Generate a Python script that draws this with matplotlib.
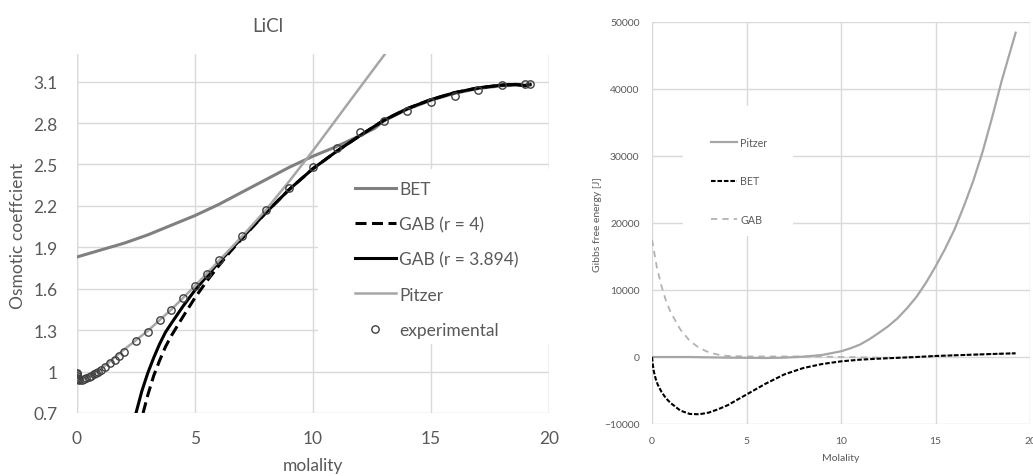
import matplotlib
matplotlib.use("Agg")
import matplotlib.pyplot as plt
from matplotlib.patches import Rectangle

# ---------------- Data: left panel (LiCl osmotic coefficient) ----------------
exp_m = [0.001, 0.005, 0.01, 0.02, 0.05, 0.1, 0.2, 0.3, 0.4, 0.5, 0.6, 0.7, 0.8, 0.9,
         1.0, 1.2, 1.4, 1.6, 1.8, 2.0, 2.5, 3.0, 3.5, 4.0, 4.5, 5.0, 5.5, 6.0,
         7, 8, 9, 10, 11, 12, 13, 14, 15, 16, 17, 18, 19, 19.2]
exp_phi = [0.99, 0.98, 0.965, 0.955, 0.945, 0.94, 0.94, 0.945, 0.953, 0.962, 0.97, 0.98, 0.99, 1.0,
           1.01, 1.035, 1.06, 1.085, 1.11, 1.14, 1.22, 1.29, 1.37, 1.445, 1.53, 1.62, 1.71, 1.805,
           1.98, 2.17, 2.33, 2.48, 2.62, 2.735, 2.815, 2.89, 2.95, 2.995, 3.04, 3.075, 3.085, 3.085]

bet_m = [0, 1, 2, 3, 4, 5, 6, 7, 8, 9, 10, 11, 12, 12.6, 13, 14, 15, 16, 17, 18, 19, 19.2]
bet_phi = [1.83, 1.88, 1.93, 1.99, 2.06, 2.13, 2.21, 2.30, 2.39, 2.48, 2.56, 2.63, 2.71, 2.76,
           2.815, 2.90, 2.965, 3.015, 3.05, 3.07, 3.075, 3.075]

gab4_m = [2.8, 3.0, 3.25, 3.5, 3.75, 4.0, 4.5, 5.0, 5.5, 6.0, 6.5, 7, 8, 9, 10, 11, 12, 13,
          14, 15, 16, 17, 18, 18.6, 19, 19.2]
gab4_phi = [0.70, 0.83, 0.97, 1.08, 1.18, 1.26, 1.40, 1.535, 1.655, 1.765, 1.87, 1.965, 2.15,
            2.32, 2.47, 2.595, 2.71, 2.82, 2.905, 2.97, 3.02, 3.055, 3.075, 3.08, 3.07, 3.08]

gab_m = [2.5, 2.75, 3.0, 3.25, 3.5, 3.75, 4.0, 4.5, 5.0, 5.5, 6.0, 7, 8, 9, 10, 11, 12, 13,
         14, 15, 16, 17, 18, 18.6, 19, 19.2]
gab_phi = [0.70, 0.86, 0.99, 1.10, 1.20, 1.285, 1.35, 1.475, 1.59, 1.69, 1.79, 1.97, 2.15,
           2.32, 2.47, 2.595, 2.71, 2.82, 2.905, 2.97, 3.02, 3.055, 3.075, 3.08, 3.07, 3.08]

pitz_m = [0.0, 0.1, 0.3, 0.5, 1, 1.5, 2, 3, 4, 5, 6, 7, 8, 9, 10, 11, 12, 13.05]
pitz_phi = [1.0, 0.945, 0.948, 0.962, 1.015, 1.09, 1.16, 1.295, 1.45, 1.62, 1.80, 1.98, 2.17,
            2.38, 2.60, 2.83, 3.06, 3.30]

# ---------------- Data: right panel (Gibbs free energy) ----------------
pitzG_m = [0, 1, 2, 3, 4, 5, 6, 7, 8, 9, 10, 10.5, 11, 11.5, 12, 12.5, 13, 13.5, 14, 14.5,
           15, 15.5, 16, 16.5, 17, 17.5, 18, 18.5, 19.24]
pitzG = [0, 0, 0, -50, -100, -120, -150, -100, 50, 300, 850, 1300, 1850, 2650, 3600, 4600,
         5800, 7300, 9000, 11100, 13500, 16100, 19000, 22500, 26300, 30700, 35800, 41200, 48400]

betG_m = [0, 0.05, 0.1, 0.2, 0.3, 0.5, 0.75, 1, 1.5, 2, 2.5, 3, 3.5, 4, 4.5, 5, 6, 7, 8, 9,
          10, 11, 12, 13, 14, 15, 16, 17, 18, 19.24]
betG = [0, -1300, -2200, -3300, -4100, -5200, -6200, -6900, -8000, -8500, -8550, -8300, -7800,
        -7200, -6400, -5600, -4000, -2600, -1650, -1050, -650, -400, -250, -120, 0, 150, 250,
        350, 450, 550]

gabG_m = [0, 0.25, 0.5, 0.75, 1, 1.5, 2, 2.5, 3, 3.5, 4, 5, 6, 7, 8, 9, 10, 11, 12, 13, 14,
          15, 16, 17, 18, 19.24]
gabG = [17500, 13500, 10600, 8300, 6600, 4100, 2400, 1350, 700, 350, 150, 80, 80, 80, 80, 60,
        0, -50, -100, -120, 0, 150, 250, 350, 450, 550]

left_yticks = [0.7, 1.0, 1.3, 1.6, 1.9, 2.2, 2.5, 2.8, 3.1]
left_yticklabels = ["0.7", "1", "1.3", "1.6", "1.9", "2.2", "2.5", "2.8", "3.1"]
x_ticks = [0, 5, 10, 15, 20]
right_yticks = [-10000, 0, 10000, 20000, 30000, 40000, 50000]

# ---------------- Figure ----------------
W, H = 1033, 477
fig = plt.figure(figsize=(W / 100, H / 100), dpi=100)
FONT = ["Lato", "DejaVu Sans"]
plt.rcParams["font.family"] = FONT
TXT = "#595959"
GRID = "#d9d9d9"


def ax_rect(l, t, r, b):
    return [l / W, 1 - b / H, (r - l) / W, (b - t) / H]


# ---------- Left panel ----------
ax1 = fig.add_axes(ax_rect(77, 55, 549, 414))
ax1.set_xlim(0, 20)
ax1.set_ylim(0.7, 3.3)
ax1.set_xticks(x_ticks)
ax1.set_yticks(left_yticks)
ax1.set_yticklabels(left_yticklabels)
ax1.set_axisbelow(True)
ax1.grid(True, color=GRID, lw=1.0, zorder=0.5)
for s in ax1.spines.values():
    s.set_visible(False)
ax1.tick_params(length=0, labelsize=12.5, labelcolor=TXT)
ax1.tick_params(axis="x", pad=12)
ax1.tick_params(axis="y", pad=14)
ax1.axvline(0, color=GRID, lw=1.0, zorder=0.55)
ax1.axvline(20, color=GRID, lw=1.0, zorder=0.55)

# legend mask box (white) over grid
ax1.add_patch(Rectangle((318, 477 - 345), 240, 175, transform=None, facecolor="white",
                        edgecolor="none", zorder=0.8))

l_bet, = ax1.plot(bet_m, bet_phi, color="#808080", lw=2.2, zorder=2)
l_gab4, = ax1.plot(gab4_m, gab4_phi, color="black", lw=2.2, ls=(0, (3.6, 1.8)), zorder=3)
l_gab, = ax1.plot(gab_m, gab_phi, color="black", lw=2.2, zorder=3)
l_pitz, = ax1.plot(pitz_m, pitz_phi, color="#a6a6a6", lw=1.8, zorder=4)
l_exp, = ax1.plot(exp_m, exp_phi, ls="none", marker="o", ms=5.3, mfc="none", mec="#404040",
                  mew=1.0, zorder=5)

leg1 = ax1.legend([l_bet, l_gab4, l_gab, l_pitz, l_exp],
                  ["BET", "GAB (r = 4)", "GAB (r = 3.894)", "Pitzer", "experimental"],
                  loc="upper left", bbox_to_anchor=(355 / W, 1 - 182 / H),
                  bbox_transform=fig.transFigure, frameon=False, borderpad=0,
                  borderaxespad=0, handlelength=2.35, handletextpad=0.2,
                  labelspacing=1.1, fontsize=12.5, numpoints=1, labelcolor=TXT)
leg1.set_zorder(6)

fig.text(268 / W, 1 - 26 / H, "LiCl", ha="center", va="center", fontsize=13.5, color=TXT)
fig.text(313 / W, 1 - 466 / H, "molality", ha="center", va="center", fontsize=12.5, color=TXT)
fig.text(18 / W, 1 - 236 / H, "Osmotic coeffcient", ha="center", va="center",
         rotation=90, fontsize=12.5, color=TXT)

# ---------- Right panel ----------
ax2 = fig.add_axes(ax_rect(652, 23, 1030, 425))
ax2.set_xlim(0, 20)
ax2.set_ylim(-10000, 50000)
ax2.set_xticks(x_ticks)
ax2.set_yticks(right_yticks)
ax2.set_axisbelow(True)
ax2.grid(True, color=GRID, lw=1.0, zorder=0.5)
for s in ax2.spines.values():
    s.set_visible(False)
ax2.tick_params(length=0, labelsize=7.5, labelcolor=TXT)
ax2.tick_params(axis="x", pad=9)
ax2.tick_params(axis="y", pad=9)

ax2.add_patch(Rectangle((683, 477 - 237), 110, 130, transform=None, facecolor="white",
                        edgecolor="none", zorder=0.8))

r_gab, = ax2.plot(gabG_m, gabG, color="#b3b3b3", lw=1.3, ls=(0, (3.5, 2.8)), zorder=2)
r_pitz, = ax2.plot(pitzG_m, pitzG, color="#a6a6a6", lw=1.6, zorder=3)
r_bet, = ax2.plot(betG_m, betG, color="black", lw=1.5, ls=(0, (2.2, 0.9)), zorder=4)

leg2 = ax2.legend([r_pitz, r_bet, r_gab], ["Pitzer", "BET", "GAB"],
                  loc="upper left", bbox_to_anchor=(711 / W, 1 - 138 / H),
                  bbox_transform=fig.transFigure, frameon=False, borderpad=0,
                  borderaxespad=0, handlelength=2.4, handletextpad=0.35,
                  labelspacing=2.55, fontsize=7.7, labelcolor=TXT)
leg2.set_zorder(6)

fig.text(841 / W, 1 - 459 / H, "Molality", ha="center", va="center", fontsize=7.5, color=TXT)
fig.text(597 / W, 1 - 225 / H, "Gibbs free energy [J]", ha="center", va="center",
         rotation=90, fontsize=7.5, color=TXT)

fig.savefig("out.png", dpi=100)
